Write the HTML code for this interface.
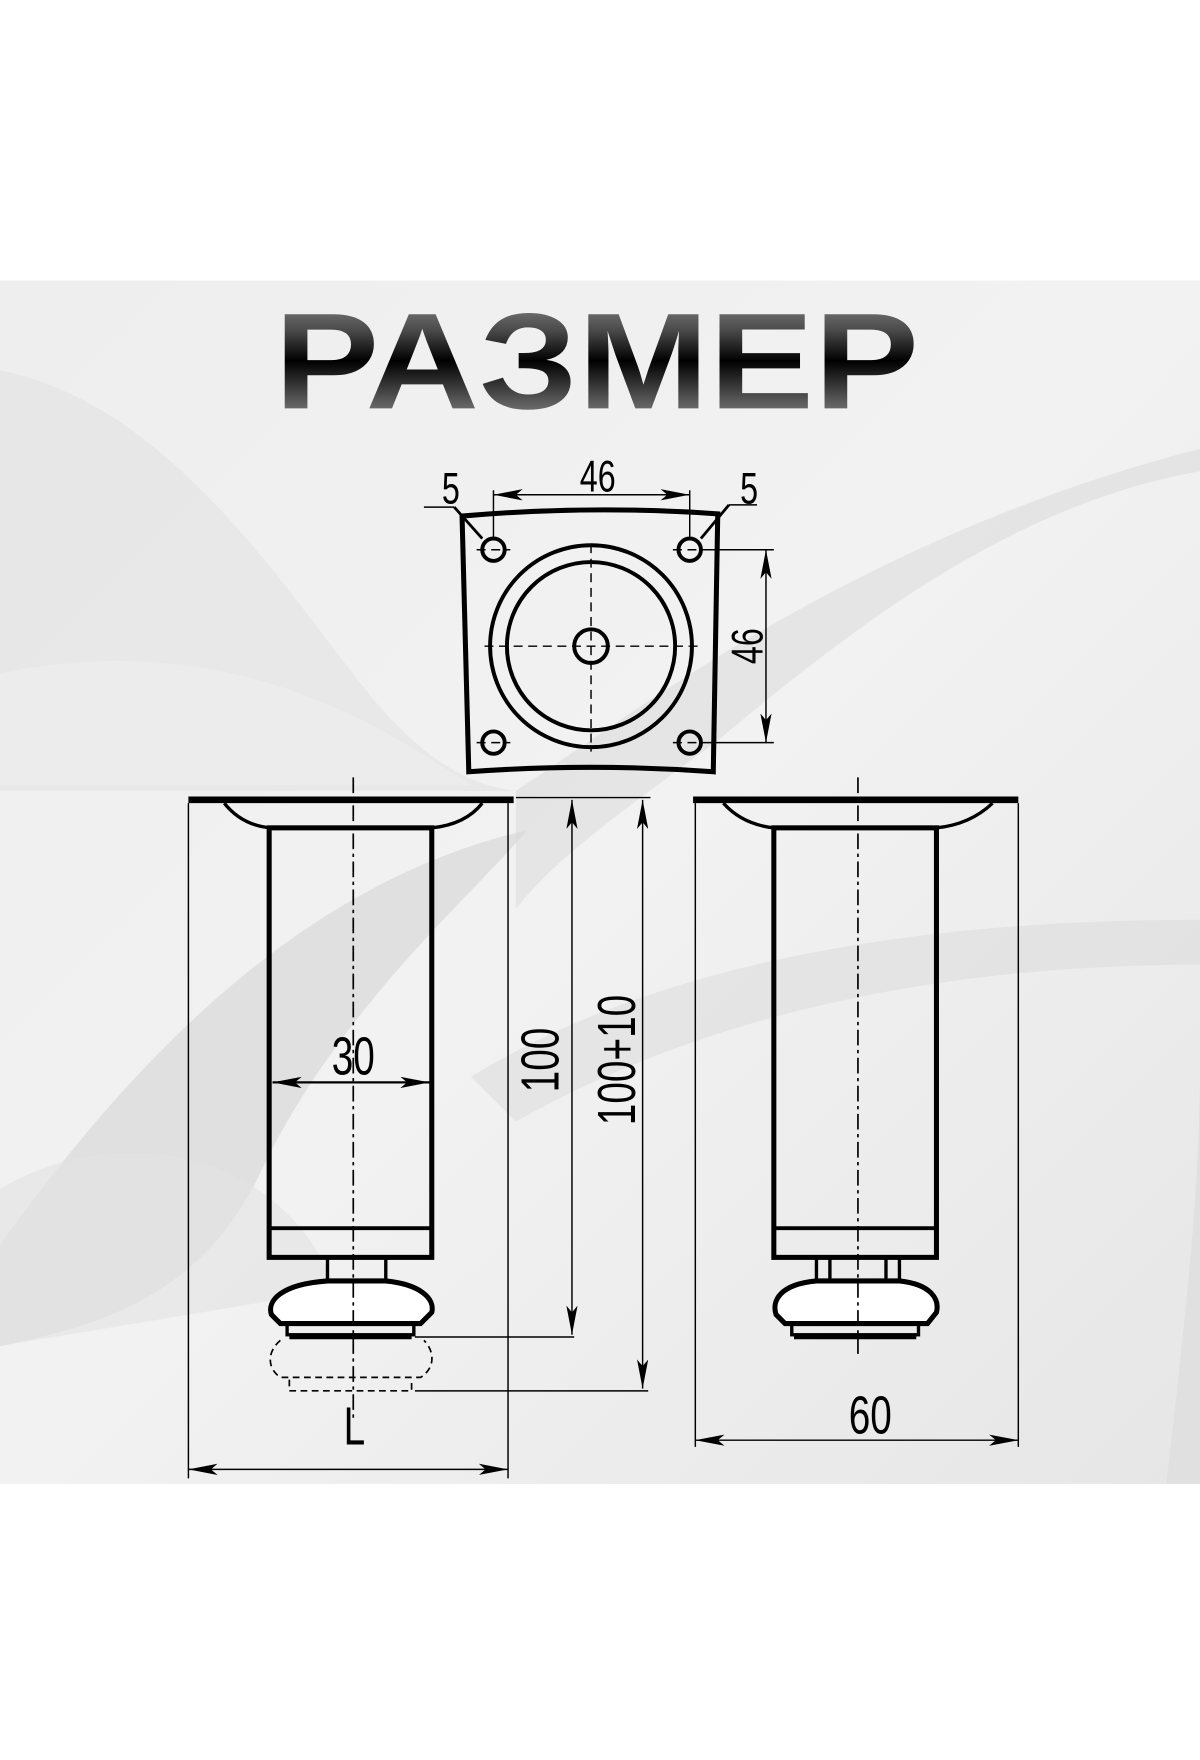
<!DOCTYPE html>
<html><head><meta charset="utf-8"><style>
html,body{margin:0;padding:0;background:#fff;}
svg{display:block;}
text{font-family:"Liberation Sans",sans-serif;}
</style></head><body>
<svg width="1200" height="1760" viewBox="0 0 1070 1569" xmlns="http://www.w3.org/2000/svg">
<defs>
<linearGradient id="bg" x1="0" y1="0" x2="1" y2="1">
<stop offset="0" stop-color="#eeeeee"/><stop offset="0.5" stop-color="#f2f2f2"/><stop offset="1" stop-color="#e6e6e6"/>
</linearGradient>
<linearGradient id="met" x1="0" y1="0" x2="0" y2="1">
<stop offset="0" stop-color="#9a9a9a"/><stop offset="0.3" stop-color="#4a4a4a"/><stop offset="0.5" stop-color="#000"/><stop offset="0.75" stop-color="#555"/><stop offset="1" stop-color="#a5a5a5"/>
</linearGradient>
<marker id="ar" viewBox="0 0 26 10" refX="26" refY="5" markerWidth="26" markerHeight="10" markerUnits="userSpaceOnUse" orient="auto-start-reverse">
<path d="M0,0 L26,5 L0,10 L6,5 Z" fill="#000"/></marker>
</defs>
<rect x="0" y="250" width="1070" height="1073" fill="url(#bg)"/>
<path d="M0,330 C150,360 250,520 330,620 C380,680 420,700 460,705 L0,705 Z" fill="#e4e4e4" opacity="0.7"/>
<path d="M0,600 C200,560 330,640 420,700 L0,700 Z" fill="#ececec"/>
<path d="M1070,420 C900,450 760,560 640,660 C560,720 500,760 460,810 L460,705 C560,640 760,480 1070,400 Z" fill="#dcdcdc" opacity="0.6"/>
<path d="M0,1110 C150,900 300,780 470,740 C420,800 300,900 230,1050 C180,1150 100,1180 0,1200 Z" fill="#d8d8d8" opacity="0.7"/>
<path d="M420,960 C550,880 750,820 1070,820 L1070,860 C800,860 600,920 460,1000 Z" fill="#dadada" opacity="0.5"/>
<path d="M1040,1323 C1060,1150 1070,1050 1070,950 L1070,1323 Z" fill="#e0e0e0"/>
<path d="M0,1060 C100,1000 250,1020 300,1150 L0,1200 Z" fill="#e2e2e2" opacity="0.6"/>

<text x="532" y="364" text-anchor="middle" font-weight="bold" font-size="122" textLength="575" lengthAdjust="spacingAndGlyphs" fill="url(#met)">РАЗМЕР</text>

<g stroke="#000" fill="none">
<path d="M412,460 Q527,450 640,458 L636,688 Q527,680 418,688 Z" stroke-width="4.5"/>
<g stroke-width="3.5">
<circle cx="440" cy="490" r="10"/><circle cx="615" cy="490" r="10"/>
<circle cx="440" cy="662" r="10"/><circle cx="615" cy="662" r="10"/>
<circle cx="527" cy="576" r="90"/><circle cx="527" cy="576" r="75"/>
<circle cx="527" cy="576" r="15"/>
</g>
<g stroke-width="1.3" stroke-dasharray="8,5">
<line x1="432" y1="576" x2="622" y2="576"/>
<line x1="527" y1="485" x2="527" y2="670"/>
<line x1="425" y1="490" x2="455" y2="490"/><line x1="600" y1="490" x2="630" y2="490"/>
<line x1="425" y1="662" x2="455" y2="662"/><line x1="600" y1="662" x2="630" y2="662"/>
</g>
<g stroke-width="1.3">
<line x1="440" y1="437" x2="440" y2="480"/><line x1="615" y1="437" x2="615" y2="480"/>
<line x1="440" y1="441" x2="615" y2="441" marker-start="url(#ar)" marker-end="url(#ar)"/>
<line x1="378" y1="452" x2="405" y2="452"/><path d="M405,452 L430,480" stroke-width="2.5"/>
<line x1="650" y1="450" x2="675" y2="450"/><path d="M650,450 L625,480" stroke-width="2.5"/>
<line x1="630" y1="490" x2="690" y2="490"/><line x1="630" y1="662" x2="690" y2="662"/>
<line x1="683" y1="490" x2="683" y2="662" marker-start="url(#ar)" marker-end="url(#ar)"/>
</g>
</g>
<g font-size="40" fill="#000">
<text transform="translate(533,438) scale(0.72,1)" text-anchor="middle">46</text>
<text transform="translate(402,449) scale(0.72,1)" text-anchor="middle">5</text>
<text transform="translate(668,449) scale(0.72,1)" text-anchor="middle">5</text>
<text transform="translate(680,576) rotate(-90) scale(0.72,1)" text-anchor="middle">46</text>
</g>

<g stroke="#000" fill="none">
<line x1="168" y1="713" x2="458" y2="713" stroke-width="6"/>
<path d="M200,716 Q215,735 240,738 L385,738 Q415,735 430,716" stroke-width="3"/>
<rect x="240" y="738" width="145" height="383" stroke-width="4.5"/>
<line x1="240" y1="1095" x2="385" y2="1095" stroke-width="3.5"/>
<path d="M292,1121 L292,1142 M344,1121 L344,1142" stroke-width="3"/>
<path d="M292,1142 C250,1145 238,1160 242,1172 L250,1180 L375,1180 L385,1170 C388,1158 375,1145 344,1142 Z" stroke-width="4.5" fill="#fff"/>
<rect x="256" y="1180" width="113" height="10" stroke-width="3"/>
<line x1="258" y1="1192" x2="367" y2="1192" stroke-width="4"/>
<g stroke-dasharray="6,4" stroke-width="1.5">
<path d="M250,1195 C238,1205 238,1220 250,1228 L375,1228 C388,1220 388,1205 378,1195"/>
<path d="M258,1230 L258,1240 L367,1240 L367,1230"/>
</g>
<line x1="315" y1="693" x2="315" y2="1265" stroke-width="1.5" stroke-dasharray="14,4,3,4"/>
<g stroke-width="1.3">
<line x1="168" y1="716" x2="168" y2="1318"/><line x1="453" y1="716" x2="453" y2="1318"/>
<line x1="168" y1="1310" x2="453" y2="1310" marker-start="url(#ar)" marker-end="url(#ar)"/>
<line x1="243" y1="965" x2="383" y2="965" marker-start="url(#ar)" marker-end="url(#ar)" stroke-width="2"/>
<line x1="460" y1="711" x2="580" y2="711"/>
<line x1="370" y1="1192" x2="512" y2="1192"/><line x1="370" y1="1240" x2="578" y2="1240"/>
<line x1="510" y1="713" x2="510" y2="1190" marker-start="url(#ar)" marker-end="url(#ar)"/>
<line x1="573" y1="713" x2="573" y2="1238" marker-start="url(#ar)" marker-end="url(#ar)"/>
</g>
</g>
<g font-size="48" fill="#000">
<text transform="translate(315,958) scale(0.72,1)" text-anchor="middle">30</text>
<text transform="translate(498,945) rotate(-90) scale(0.72,1)" text-anchor="middle">100</text>
<text transform="translate(566,945) rotate(-90) scale(0.72,1)" text-anchor="middle">100+10</text>
<text transform="translate(316,1288) scale(0.72,1)" text-anchor="middle">L</text>
</g>

<g stroke="#000" fill="none">
<line x1="618" y1="713" x2="908" y2="713" stroke-width="6"/>
<path d="M645,716 Q662,735 690,738 L835,738 Q865,735 885,716" stroke-width="3"/>
<rect x="690" y="738" width="145" height="383" stroke-width="4.5"/>
<line x1="690" y1="1095" x2="835" y2="1095" stroke-width="3.5"/>
<path d="M728,1121 L728,1142 M740,1121 L740,1142 M790,1121 L790,1142 M802,1121 L802,1142" stroke-width="3"/>
<path d="M728,1142 C695,1145 688,1160 692,1172 L700,1180 L827,1180 L835,1170 C838,1158 830,1145 802,1142 Z" stroke-width="4.5" fill="#fff"/>
<rect x="706" y="1180" width="113" height="10" stroke-width="3"/>
<line x1="708" y1="1192" x2="817" y2="1192" stroke-width="4"/>
<line x1="765" y1="693" x2="765" y2="1210" stroke-width="1.5" stroke-dasharray="14,4,3,4"/>
<g stroke-width="1.3">
<line x1="620" y1="716" x2="620" y2="1290"/><line x1="908" y1="716" x2="908" y2="1290"/>
<line x1="620" y1="1284" x2="908" y2="1284" marker-start="url(#ar)" marker-end="url(#ar)"/>
</g>
</g>
<text transform="translate(776,1278) scale(0.72,1)" text-anchor="middle" font-size="48" fill="#000">60</text>
</svg>
</body></html>
